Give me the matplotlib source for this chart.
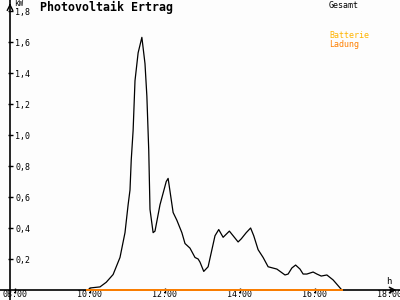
import matplotlib
matplotlib.use('Agg')
import matplotlib.pyplot as plt

# Photovoltaik Ertrag (kW) - Gesamt
zeit = ['09:57', '10:00', '10:16', '10:26', '10:37', '10:48', '10:56', '11:01',
        '11:04', '11:06', '11:09', '11:12', '11:17', '11:23', '11:28', '11:31',
        '11:34', '11:36', '11:41', '11:44', '11:52', '12:02', '12:05', '12:13',
        '12:19', '12:27', '12:32', '12:40', '12:48', '12:53', '12:56', '13:02',
        '13:09', '13:20', '13:26', '13:33', '13:43', '13:49', '13:57', '14:02',
        '14:10', '14:17', '14:22', '14:29', '14:37', '14:45', '14:59', '15:12',
        '15:17', '15:23', '15:29', '15:36', '15:41', '15:47', '15:57', '16:03',
        '16:10', '16:19', '16:29', '16:43']
gesamt = [0.0, 0.013, 0.02, 0.05, 0.10, 0.21, 0.37, 0.55,
          0.645, 0.84, 1.03, 1.35, 1.53, 1.63, 1.46, 1.25,
          0.90, 0.52, 0.37, 0.38, 0.55, 0.70, 0.72, 0.50,
          0.45, 0.37, 0.30, 0.27, 0.21, 0.20, 0.18, 0.12,
          0.15, 0.35, 0.39, 0.34, 0.38, 0.35, 0.31, 0.33,
          0.37, 0.40, 0.35, 0.26, 0.21, 0.15, 0.135, 0.097,
          0.103, 0.142, 0.161, 0.135, 0.103, 0.103, 0.116, 0.103,
          0.09, 0.097, 0.065, 0.0]

# Batterie Ladung
batt_zeit = ['09:56', '16:43']
batt_ladung = [0.0, 0.0]

y_ticks = [0.2, 0.4, 0.6, 0.8, 1.0, 1.2, 1.4, 1.6, 1.8]
x_ticks = [8, 10, 12, 14, 16, 18]
x_labels = ['08:00', '10:00', '12:00', '14:00', '16:00', '18:00']


def to_h(s):
    h, m = s.split(':')
    return int(h) + int(m) / 60.0


mono = 'DejaVu Sans Mono'
y_axis_at = 7.867  # hour where the kW axis sits

fig = plt.figure(figsize=(4, 3), dpi=100)
fig.patch.set_facecolor('#fdfdfd')
ax = fig.add_axes([0, 0, 1, 1])
ax.set_facecolor('#fdfdfd')
ax.set_xlim(7.6, 18.267)
ax.set_ylim(-0.0645, 1.871)

ax.plot([to_h(t) for t in zeit], gesamt, color='black', lw=0.9, zorder=3)
ax.plot([to_h(t) for t in batt_zeit], batt_ladung, color='#ff8000', lw=1.4, zorder=4)

for s in ['top', 'right']:
    ax.spines[s].set_visible(False)
ax.spines['bottom'].set_position(('data', 0))
ax.spines['left'].set_position(('data', y_axis_at))
ax.spines['bottom'].set_linewidth(1.2)
ax.spines['left'].set_linewidth(1.2)

ax.set_yticks(y_ticks)
ax.set_yticklabels([('%.1f' % v).replace('.', ',') for v in y_ticks])
ax.set_xticks(x_ticks)
ax.set_xticklabels(x_labels)
ax.tick_params(axis='y', direction='inout', length=3.6, width=1, pad=-5.4,
               labelsize=6, labelfontfamily=mono)
ax.tick_params(axis='x', direction='inout', length=3.6, width=1, pad=-1.5,
               labelsize=6, labelfontfamily=mono)
for lbl in ax.get_yticklabels():
    lbl.set_ha('left')

# arrow heads
ax.annotate('', xy=(0.998, 0), xytext=(0.97, 0),
            xycoords=('axes fraction', 'data'),
            arrowprops=dict(arrowstyle='->', lw=1, color='black'))
ax.annotate('', xy=(y_axis_at, 0.998), xytext=(y_axis_at, 0.97),
            xycoords=('data', 'axes fraction'),
            arrowprops=dict(arrowstyle='->', lw=1, color='black'))

fig.text(40 / 400, 1 - 7 / 300, 'Photovoltaik Ertrag', family=mono,
         fontweight='bold', fontsize=8.4, va='center', ha='left')
fig.text(14 / 400, 1 - 4 / 300, 'kW', family=mono, fontsize=5.5, va='center')
fig.text(386 / 400, 1 - 282 / 300, 'h', family=mono, fontsize=6.5, va='center')
fig.text(329 / 400, 1 - 5 / 300, 'Gesamt', family=mono, fontsize=6, va='center')
fig.text(329 / 400, 1 - 36 / 300, 'Batterie', family=mono, fontsize=6,
         va='center', color='#ffb400')
fig.text(329 / 400, 1 - 44 / 300, 'Ladung', family=mono, fontsize=6,
         va='center', color='#ff7f00')

plt.savefig('out.png', dpi=100, facecolor=fig.get_facecolor())
